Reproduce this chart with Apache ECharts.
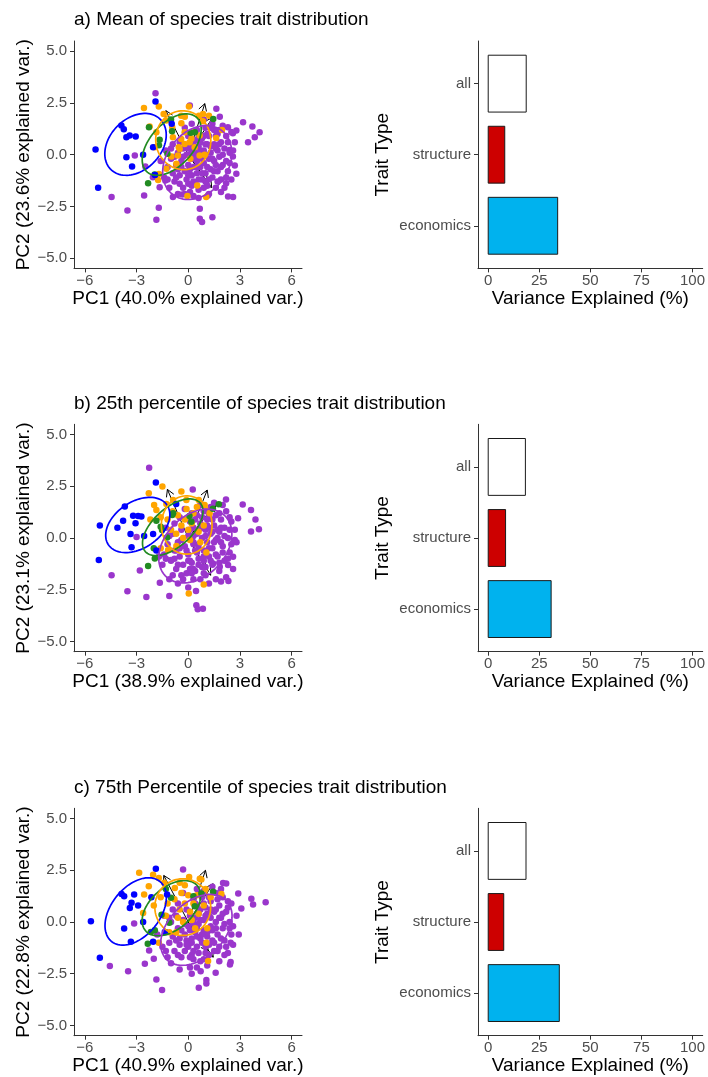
<!DOCTYPE html>
<html>
<head>
<meta charset="utf-8">
<script src="https://cdn.jsdelivr.net/npm/echarts@6/dist/echarts.min.js"></script>
<style>
  html, body { margin: 0; padding: 0; background: #fff; }
  #chart { width: 708px; height: 1077px; }
</style>
</head>
<body>
<div id="chart"></div>
<script>
// panel texts
var panelTitles = [
  'a) Mean of species trait distribution',
  'b) 25th percentile of species trait distribution',
  'c) 75th Percentile of species trait distribution'
];
var pc1Names = ['PC1 (40.0% explained var.)', 'PC1 (38.9% explained var.)', 'PC1 (40.9% explained var.)'];
var pc2Names = ['PC2 (23.6% explained var.)', 'PC2 (23.1% explained var.)', 'PC2 (22.8% explained var.)'];

// bar charts (bottom to top)
var traitTypes = ['economics', 'structure', 'all'];
var varianceMean = [34.0, 8.1, 18.6];
var variance25 = [30.8, 8.5, 18.2];
var variance75 = [34.8, 7.6, 18.5];
var barTicks = [0, 25, 50, 75, 100];

var pcXTicks = [-6, -3, 0, 3, 6];
var pcYTicks = [-5, -2.5, 0, 2.5, 5];

// PCA scores, panel a (mean)
var blueA = [[-5.38,0.25],[-5.23,-1.6],[-3.88,1.41],[-3.74,1.23],[-3.59,0.85],[-3.4,0.93],[-3.05,0.88],[-3.59,-0.12],[-3.26,-0.57],[-2.62,0.0],[-2.04,0.36],[-1.93,-0.98],[-1.9,2.57],[-0.96,1.5]];
var greenA = [[-2.28,1.33],[-1.66,0.72],[-1.7,0.46],[-1.21,0.04],[-1.0,1.7],[-0.94,1.14],[0.14,1.06],[0.38,1.09],[1.45,1.73],[-2.33,-1.38],[-1.95,-0.96]];
var orangeA = [[-2.57,2.26],[-1.71,2.33],[-1.43,1.97],[-2.24,1.36],[-1.85,1.09],[-1.27,1.65],[-0.93,1.33],[-0.41,1.89],[-0.2,1.84],[0.04,2.33],[0.62,1.89],[0.86,1.97],[0.85,1.62],[1.2,1.89],[-0.89,0.85],[-0.41,0.76],[-0.21,0.52],[0.08,0.6],[0.18,0.77],[0.37,0.36],[-0.55,0.36],[-0.5,0.28],[-0.98,-0.09],[-0.69,-0.44],[0.66,-0.04],[0.95,0.0],[1.96,1.2],[-1.27,-0.68],[-1.7,-0.93],[-1.75,-1.22],[-0.05,-2.0],[1.04,-2.05],[0.52,-1.49],[-1.95,0.36],[-0.21,1.09],[0.27,1.09],[0.66,0.93],[-0.6,-0.04],[0.12,-0.2],[1.62,0.81],[-0.4,1.52]];
var purpleA = [[-1.9,2.97],[0.09,2.38],[1.63,2.22],[1.83,1.84],[3.18,1.57],[3.72,1.36],[4.14,1.09],[3.86,0.85],[3.47,0.6],[2.79,1.17],[2.59,1.04],[2.3,1.33],[-3.1,-0.04],[-4.45,-2.05],[-3.53,-2.7],[-2.56,-1.97],[-1.71,-2.57],[-1.85,-3.15],[0.67,-2.62],[0.67,-3.1],[0.8,-3.26],[1.4,-3.02],[2.31,-2.02],[2.6,-2.05],[2.79,-0.92],[2.7,-0.52],[2.59,-0.09],[2.39,0.23],[2.2,-1.38],[1.14,-1.97],[-0.89,-2.05],[-0.35,-1.92],[-1.66,-1.57],[-2.05,-1.09],[-1.33,-1.25],[-2.49,-0.57],
  [-1.2,-0.6],[-1.0,-0.2],[-0.9,-0.9],[-0.8,-1.3],[-0.7,-0.5],[-0.6,0.1],[-0.5,-1.0],[-0.4,-0.3],[-0.3,-1.6],[-0.3,0.3],[-0.2,-0.8],[-0.1,-1.2],[-0.1,0.0],[0.0,-0.5],[0.0,0.9],[0.1,-1.8],[0.1,0.4],[0.2,-0.2],[0.2,-1.0],[0.3,0.6],[0.3,-0.6],[0.4,-1.4],[0.4,0.1],[0.5,-0.3],[0.5,1.2],[0.5,-0.9],[0.6,0.4],[0.6,-1.7],[0.7,-0.1],[0.7,-0.6],[0.8,0.8],[0.8,-1.2],[0.9,0.2],[0.9,-0.4],[1.0,-0.9],[1.0,1.3],[1.1,0.5],[1.1,-1.5],[1.2,-0.2],[1.2,0.9],[1.3,-0.7],[1.3,0.1],[1.4,-1.1],[1.4,1.5],[1.5,0.5],[1.5,-0.3],[1.6,-1.6],[1.6,0.9],[1.7,-0.8],[1.7,0.2],[1.8,-0.1],[1.8,1.2],[1.9,-1.2],[1.9,0.6],[2.0,-0.5],[2.1,0.3],[2.1,-1.6],[2.2,0.9],[2.3,-0.8],[2.4,0.1],[2.5,-1.2],[2.5,1.1],[-1.4,-1.1],[-1.6,-0.3],[-1.3,0.2],[-0.9,0.5],[-0.6,-1.9],[-0.2,1.3],[0.2,1.5],[0.9,1.7],[1.2,-1.9],[1.5,1.2],[0.3,-2.0],[-0.5,0.6],[0.6,0.9],[1.0,0.0],[0.0,-1.4],[-1.1,-1.6],[2.0,1.4],[2.7,0.6],[1.9,-1.8],[1.1,1.0],[0.8,-0.2],[0.4,-0.1],[-0.3,-0.1],[0.1,-0.7],[1.6,-0.5],[2.2,-0.3],[-0.8,-0.1],[0.7,0.2],
  [-0.7,-1.1],[-0.4,-0.6],[-0.2,-1.9],[0.0,0.3],[0.1,-1.0],[0.3,-1.3],[0.3,0.2],[0.5,-0.6],[0.6,-1.2],[0.7,0.6],[0.8,-0.9],[0.9,-1.6],[1.0,0.5],[1.1,-0.6],[1.2,-1.2],[1.3,0.4],[1.4,-0.2],[1.5,-0.8],[1.6,0.3],[1.7,-1.3],[1.8,0.5],[1.9,-0.6],[2.0,0.0],[2.2,-1.1],[2.3,0.6],[0.4,0.7],[-0.5,-1.4],[0.2,-1.5],[1.0,-1.3],[2.4,-0.4],[-1.0,0.3],[0.6,-2.1],[1.3,1.3],[0.0,-1.0],[-0.6,-0.7],[1.7,1.0],[2.6,0.2],[-1.2,-1.2],[0.9,0.9],[0.2,0.1]];

// panel b (25th percentile)
var blueB = [[-5.13,0.6],[-5.19,-1.07],[-3.68,1.52],[-3.2,1.08],[-2.91,1.07],[-2.72,1.04],[-3.78,0.84],[-3.06,0.71],[-4.11,0.5],[-3.35,0.19],[-3.29,-0.45],[-2.04,0.19],[-2.56,0.1],[-1.88,2.69],[-0.7,1.65],[-1.85,-0.61]];
var greenB = [[-1.85,0.83],[-1.6,0.55],[-1.52,0.39],[-1.23,0.03],[-0.88,1.2],[-0.93,1.11],[0.07,1.06],[0.18,0.79],[1.43,1.42],[1.77,1.63],[-1.94,-0.99],[-2.33,-1.36],[-2.0,-0.5]];
var orangeB = [[-2.29,2.17],[-1.5,2.49],[-1.98,1.6],[-1.85,1.36],[-1.27,1.65],[-0.88,1.84],[-0.4,2.25],[-0.11,1.84],[0.61,1.84],[0.95,1.6],[1.24,1.2],[-1.6,1.0],[-1.2,0.9],[-0.9,1.3],[-0.6,1.1],[-0.4,0.6],[-0.2,0.9],[0.0,0.4],[0.2,0.7],[0.3,1.2],[-0.7,0.2],[-0.3,0.0],[0.1,-0.1],[0.6,0.3],[0.9,0.6],[-1.17,-0.58],[-0.69,-0.39],[1.05,-0.7],[-1.6,-0.5],[0.9,-2.25],[0.03,-2.69],[0.5,1.5],[-0.1,1.4],[-2.2,0.9],[0.7,-0.2],[-1.0,0.4]];
var purpleB = [[-2.27,3.4],[0.26,2.35],[2.19,1.86],[3.16,1.62],[3.64,1.35],[3.9,0.89],[4.1,0.42],[3.64,0.31],[2.89,0.95],[2.8,-0.2],[2.6,-0.91],[-3.0,0.05],[-4.45,-1.8],[-3.53,-2.57],[-2.81,-1.57],[-2.43,-2.86],[-1.65,-2.17],[-1.1,-2.81],[0.47,-3.25],[0.55,-3.45],[0.85,-3.42],[1.9,-2.1],[2.33,-2.08],[0.45,-2.56],[-1.01,-1.07],[-0.4,-1.8],[1.44,-1.23],[1.83,-1.39],[2.31,-1.31],
  [-1.4,-0.8],[-1.2,-0.3],[-1.0,-1.1],[-0.9,0.2],[-0.8,-0.6],[-0.7,-1.5],[-0.6,-0.2],[-0.5,-0.9],[-0.4,0.4],[-0.3,-1.3],[-0.2,-0.4],[-0.1,-1.7],[0.0,0.1],[0.0,-0.8],[0.1,0.8],[0.2,-1.2],[0.2,-0.1],[0.3,0.5],[0.4,-0.6],[0.4,-1.6],[0.5,0.2],[0.5,1.1],[0.6,-0.3],[0.6,-1.0],[0.7,0.7],[0.8,-1.4],[0.8,0.0],[0.9,-0.6],[0.9,1.3],[1.0,0.4],[1.0,-1.8],[1.1,-0.2],[1.1,0.9],[1.2,-0.9],[1.3,0.2],[1.3,1.5],[1.4,-0.5],[1.4,-1.3],[1.5,0.6],[1.6,-0.1],[1.6,1.1],[1.7,-0.9],[1.8,0.3],[1.8,-1.6],[1.9,0.9],[2.0,-0.4],[2.1,0.5],[2.1,-1.1],[2.2,1.3],[2.3,0.0],[2.4,-0.7],[2.5,0.8],[2.6,-1.5],[-1.5,-1.3],[-1.3,0.5],[-0.9,-1.8],[-0.5,1.0],[-0.2,1.4],[0.3,-2.0],[0.7,1.6],[1.2,-2.2],[1.5,1.7],[2.0,1.6],[-0.6,-2.2],[0.1,-1.5],[0.9,-1.1],[1.7,0.0],[0.3,-0.3],[-0.4,-0.1],[1.0,0.1],[0.6,0.4],[1.9,-0.2],[-1.7,-0.9],[2.7,0.4],[1.4,0.9],[-0.1,-0.6],[0.5,-0.7],[1.2,0.5],[0.2,1.2],[-0.8,0.7],[1.6,-2.0],[2.2,-1.9],[0.0,-2.4],[-1.1,-2.0],[2.4,1.0],[1.1,1.3],
  [-0.8,-1.0],[-0.5,-0.5],[-0.3,-2.0],[0.1,0.4],[0.1,-1.1],[0.3,-1.5],[0.3,0.1],[0.6,-0.5],[0.6,-1.3],[0.8,0.5],[0.9,-0.9],[0.9,-1.7],[1.1,0.6],[1.2,-0.5],[1.3,-1.1],[1.4,0.3],[1.5,-0.2],[1.6,-0.8],[1.7,0.4],[1.8,-1.2],[1.9,0.5],[2.0,-0.7],[2.1,0.1],[2.3,-1.0],[2.4,0.4],[0.4,0.9],[-0.6,-1.3],[0.2,-1.7],[1.0,-1.4],[2.5,-0.3],[-1.1,0.1],[0.7,-2.0],[1.2,1.1],[0.0,-1.1],[-0.7,-0.6],[1.8,1.2],[2.7,-0.1],[-1.3,-1.0],[0.8,1.0],[0.3,-0.2]];

// panel c (75th percentile)
var blueC = [[-5.65,0.04],[-5.13,-1.73],[-3.87,1.36],[-3.72,1.25],[-3.14,1.33],[-3.29,0.93],[-2.91,0.8],[-3.39,0.68],[-3.72,-0.31],[-3.33,-0.96],[-1.88,2.58],[-2.14,1.2],[-1.23,1.33],[-1.36,-0.48],[-2.04,-0.96],[-2.62,0.0]];
var greenC = [[-1.3,1.6],[-1.0,1.17],[-1.55,0.35],[-1.1,-0.04],[-2.17,-0.48],[-2.35,-1.05],[0.3,1.25],[0.38,0.76],[1.44,1.46],[0.76,1.38],[-1.94,-0.4]];
var orangeC = [[-2.85,2.38],[-2.04,2.29],[-1.71,2.13],[-2.29,1.73],[-2.56,1.33],[-1.4,1.9],[-0.78,1.65],[-0.5,1.9],[0.05,2.18],[-0.2,1.78],[0.76,2.05],[0.67,2.09],[1.0,1.6],[1.92,1.36],[-1.6,1.2],[-1.2,0.9],[-0.8,1.1],[-0.5,0.6],[-0.2,0.9],[0.1,0.5],[0.3,0.9],[0.5,1.3],[-0.6,0.2],[-0.3,0.0],[0.2,0.1],[0.6,0.4],[0.9,0.8],[-1.1,-0.5],[-0.7,-0.5],[1.1,-0.3],[-1.71,-1.0],[1.05,-1.0],[1.15,-1.89],[-2.62,0.44],[-2.0,0.8],[0.0,1.3],[-0.4,1.4],[1.3,1.2],[0.4,-0.3],[-1.3,0.3]];
var purpleC = [[-0.3,2.54],[2.02,1.89],[2.2,1.86],[2.9,1.38],[3.66,1.13],[3.76,0.85],[4.49,0.96],[3.08,0.65],[2.93,-0.6],[2.46,-1.0],[2.46,-1.94],[2.42,-2.05],[1.59,-2.46],[1.05,-2.81],[1.05,-2.98],[0.61,-3.18],[-1.52,-3.29],[-1.85,-2.78],[-2.52,-2.02],[-3.49,-2.38],[-4.55,-2.13],[-3.14,-0.07],[-2.27,-1.38],[-2.0,-1.78],[0.72,-2.38],
  [-1.3,-0.5],[-1.1,-1.0],[-1.0,0.0],[-0.9,-0.7],[-0.8,-1.4],[-0.7,0.3],[-0.6,-0.3],[-0.5,-1.1],[-0.4,-1.7],[-0.3,0.1],[-0.2,-0.6],[-0.1,0.6],[0.0,-1.2],[0.0,-0.2],[0.1,0.3],[0.2,-0.8],[0.2,-1.6],[0.3,0.0],[0.4,0.9],[0.4,-0.5],[0.5,-1.2],[0.6,0.4],[0.6,-0.1],[0.7,-0.8],[0.7,-1.9],[0.8,1.2],[0.9,0.1],[0.9,-0.4],[1.0,-1.2],[1.0,0.7],[1.1,-0.7],[1.2,0.3],[1.2,-1.6],[1.3,1.0],[1.3,-0.2],[1.4,-0.9],[1.5,0.5],[1.5,-1.4],[1.6,1.4],[1.6,0.0],[1.7,-0.6],[1.8,0.8],[1.8,-1.2],[1.9,0.2],[2.0,-0.3],[2.0,1.2],[2.1,-0.9],[2.2,0.5],[2.3,-1.5],[2.4,0.0],[2.5,-0.6],[2.5,0.9],[2.6,-1.1],[-1.5,-1.2],[-1.4,0.3],[-1.0,-2.0],[-0.6,0.9],[-0.3,1.4],[0.1,-2.2],[0.5,1.6],[1.1,-2.1],[1.4,1.7],[1.9,1.6],[-0.5,-2.3],[0.3,-1.4],[0.8,-0.6],[1.6,-0.3],[0.1,-0.4],[-0.2,-0.1],[1.1,0.4],[0.7,0.1],[2.1,-0.1],[-1.8,-0.6],[2.8,0.3],[1.3,0.6],[-0.1,-0.9],[0.5,-0.3],[1.2,-0.4],[0.3,1.1],[-0.9,0.6],[1.8,-1.9],[2.1,-1.6],[0.2,-2.5],[-1.2,-1.7],[2.3,1.0],[0.9,1.5],
  [-0.7,-0.9],[-0.4,-0.4],[-0.2,-1.4],[0.1,0.5],[0.2,-1.0],[0.3,-1.8],[0.4,0.2],[0.5,-0.7],[0.6,-1.5],[0.7,0.6],[0.8,-1.0],[0.9,-1.8],[1.0,0.3],[1.1,-0.5],[1.2,-1.1],[1.3,0.2],[1.4,-0.4],[1.5,-1.0],[1.6,0.6],[1.7,-1.4],[1.8,0.2],[1.9,-0.8],[2.0,0.4],[2.2,-1.2],[2.3,0.7],[0.5,0.8],[-0.6,-1.6],[0.1,-1.7],[1.0,-1.5],[2.4,-0.3],[-1.1,0.2],[0.5,-2.2],[1.2,1.2],[-0.1,-1.1],[-0.5,-0.8],[1.7,1.1],[2.6,-0.2],[-1.3,-1.4],[0.9,0.9],[0.3,-0.1]];

// group ellipses: [cx, cy, semi-major, semi-minor, angle deg]
var ellipsesA = [[-3.06,0.5,1.91,1.33,30],[-0.96,0.49,1.97,1.12,37],[-0.29,0.7,1.6,1.42,-5],[0.52,-0.38,2.15,1.61,33]];
var ellipsesB = [[-2.93,0.63,1.97,1.17,24],[-0.9,0.52,1.99,1.0,33],[-0.09,0.63,1.47,1.41,0],[0.41,-0.39,2.29,1.56,31]];
var ellipsesC = [[-3.05,0.51,2.04,1.29,39],[-0.98,0.67,1.87,1.08,31],[-0.32,0.72,1.62,1.37,0],[0.47,-0.38,2.27,1.44,32]];

// loading arrows (tips)
var arrowsA = [[-1.3,2.13],[0.96,2.47],[1.42,1.8],[1.36,-1.59],[1.1,-1.35]];
var arrowsB = [[-1.21,2.35],[1.1,2.32],[1.6,1.63],[1.3,-1.8],[1.0,-1.45]];
var arrowsC = [[-1.42,2.25],[1.0,2.5],[1.44,1.85],[1.45,-1.7],[1.15,-1.4]];

var groupColors = ['#0000FF', '#228B22', '#FFA500', '#9A36CC'];
var barColors = ['#00B2EE', '#CD0000', '#FFFFFF'];

var panels = [
  {blue: blueA, green: greenA, orange: orangeA, purple: purpleA, ell: ellipsesA, arr: arrowsA, bars: varianceMean},
  {blue: blueB, green: greenB, orange: orangeB, purple: purpleB, ell: ellipsesB, arr: arrowsB, bars: variance25},
  {blue: blueC, green: greenC, orange: orangeC, purple: purpleC, ell: ellipsesC, arr: arrowsC, bars: variance75}
];
var rowTops = [41, 424.3, 808.3];
var plotH = 227.4;

function minusFmt(v, digits) {
  var s = digits ? Math.abs(v).toFixed(digits) : String(Math.abs(v));
  return v < 0 ? '\u2212' + s : s;
}

function ellipseItem(params, api) {
  var cx = api.value(0), cy = api.value(1), a = api.value(2), b = api.value(3);
  var t = api.value(4) * Math.PI / 180;
  var pts = [];
  for (var k = 0; k <= 90; k++) {
    var u = k / 90 * 2 * Math.PI;
    var ex = a * Math.cos(u), ey = b * Math.sin(u);
    pts.push(api.coord([cx + ex * Math.cos(t) - ey * Math.sin(t), cy + ex * Math.sin(t) + ey * Math.cos(t)]));
  }
  return {type: 'polyline', shape: {points: pts},
    style: {stroke: groupColors[params.dataIndex], fill: null, lineWidth: 1.7}};
}

function arrowItem(params, api) {
  var p0 = api.coord([0, 0]);
  var p1 = api.coord([api.value(0), api.value(1)]);
  var ang = Math.atan2(p1[1] - p0[1], p1[0] - p0[0]);
  var L = 8, w = Math.PI / 6;
  var h1 = [p1[0] - L * Math.cos(ang - w), p1[1] - L * Math.sin(ang - w)];
  var h2 = [p1[0] - L * Math.cos(ang + w), p1[1] - L * Math.sin(ang + w)];
  return {type: 'group', children: [
    {type: 'line', shape: {x1: p0[0], y1: p0[1], x2: p1[0], y2: p1[1]}, style: {stroke: '#000', lineWidth: 1}},
    {type: 'polyline', shape: {points: [h1, p1, h2]}, style: {stroke: '#000', fill: null, lineWidth: 1}}
  ]};
}

function barItem(params, api) {
  var p0 = api.coord([0, api.value(1) - 0.4]);
  var p1 = api.coord([api.value(0), api.value(1) + 0.4]);
  return {type: 'rect',
    shape: {x: p0[0], y: p1[1], width: p1[0] - p0[0], height: p0[1] - p1[1]},
    style: {fill: barColors[params.dataIndex], stroke: '#1a1a1a', lineWidth: 1}};
}

var axisLine = {show: true, onZero: false, lineStyle: {color: '#333', width: 1}};
var axisTick = {show: true, length: 4, lineStyle: {color: '#333', width: 1}};
var tickLabel = {color: '#4d4d4d', fontSize: 15};
var nameStyle = {color: '#000', fontSize: 19};

var grids = [], xAxes = [], yAxes = [], series = [], titles = [];

panels.forEach(function(p, i) {
  var top = rowTops[i];
  titles.push({text: panelTitles[i], left: 74, top: top - 30.5, padding: 0,
    textStyle: {fontSize: 19, fontWeight: 'normal', color: '#000'}});

  // PCA biplot
  var g = grids.length;
  grids.push({left: 74, top: top, width: 228, height: plotH});
  xAxes.push({gridIndex: g, type: 'value', min: -6.63, max: 6.6,
    axisLine: axisLine, splitLine: {show: false},
    axisTick: Object.assign({customValues: pcXTicks}, axisTick),
    axisLabel: Object.assign({customValues: pcXTicks, margin: 5, formatter: function(v) { return minusFmt(v); }}, tickLabel),
    name: pc1Names[i], nameLocation: 'middle', nameGap: 21, nameTextStyle: nameStyle});
  yAxes.push({gridIndex: g, type: 'value', min: -5.5, max: 5.5,
    axisLine: axisLine, splitLine: {show: false},
    axisTick: Object.assign({customValues: pcYTicks}, axisTick),
    axisLabel: Object.assign({customValues: pcYTicks, margin: 7, formatter: function(v) { return minusFmt(v, 1); }}, tickLabel),
    name: pc2Names[i], nameLocation: 'middle', nameGap: 41, nameTextStyle: nameStyle});

  series.push({type: 'custom', xAxisIndex: g, yAxisIndex: g, z: 1, renderItem: arrowItem, data: p.arr, silent: true});
  [['purple', 3], ['orange', 2], ['green', 1], ['blue', 0]].forEach(function(gr) {
    series.push({type: 'scatter', xAxisIndex: g, yAxisIndex: g, z: 2, symbolSize: 6.5,
      itemStyle: {color: groupColors[gr[1]], opacity: 1}, data: p[gr[0]], silent: true});
  });
  series.push({type: 'custom', xAxisIndex: g, yAxisIndex: g, z: 3, renderItem: ellipseItem, data: p.ell, silent: true});

  // variance bars
  var b = grids.length;
  grids.push({left: 478, top: top, width: 227, height: plotH});
  xAxes.push({gridIndex: b, type: 'value', min: -5, max: 105,
    axisLine: axisLine, splitLine: {show: false},
    axisTick: Object.assign({customValues: barTicks}, axisTick),
    axisLabel: Object.assign({customValues: barTicks, margin: 5}, tickLabel),
    name: 'Variance Explained (%)', nameLocation: 'middle', nameGap: 21, nameTextStyle: nameStyle});
  yAxes.push({gridIndex: b, type: 'value', min: 0.4, max: 3.6,
    axisLine: axisLine, splitLine: {show: false},
    axisTick: Object.assign({customValues: [1, 2, 3]}, axisTick),
    axisLabel: Object.assign({customValues: [1, 2, 3], margin: 7, formatter: function(v) { return traitTypes[v - 1]; }}, tickLabel),
    name: 'Trait Type', nameLocation: 'middle', nameGap: 86, nameTextStyle: nameStyle});
  series.push({type: 'custom', xAxisIndex: b, yAxisIndex: b, renderItem: barItem, silent: true,
    data: p.bars.map(function(v, j) { return [v, j + 1]; })});
});

var chart = echarts.init(document.getElementById('chart'));
chart.setOption({
  animation: false,
  backgroundColor: '#fff',
  textStyle: {fontFamily: 'Liberation Sans, Arial, sans-serif'},
  title: titles,
  grid: grids,
  xAxis: xAxes,
  yAxis: yAxes,
  series: series
});
</script>
</body>
</html>
